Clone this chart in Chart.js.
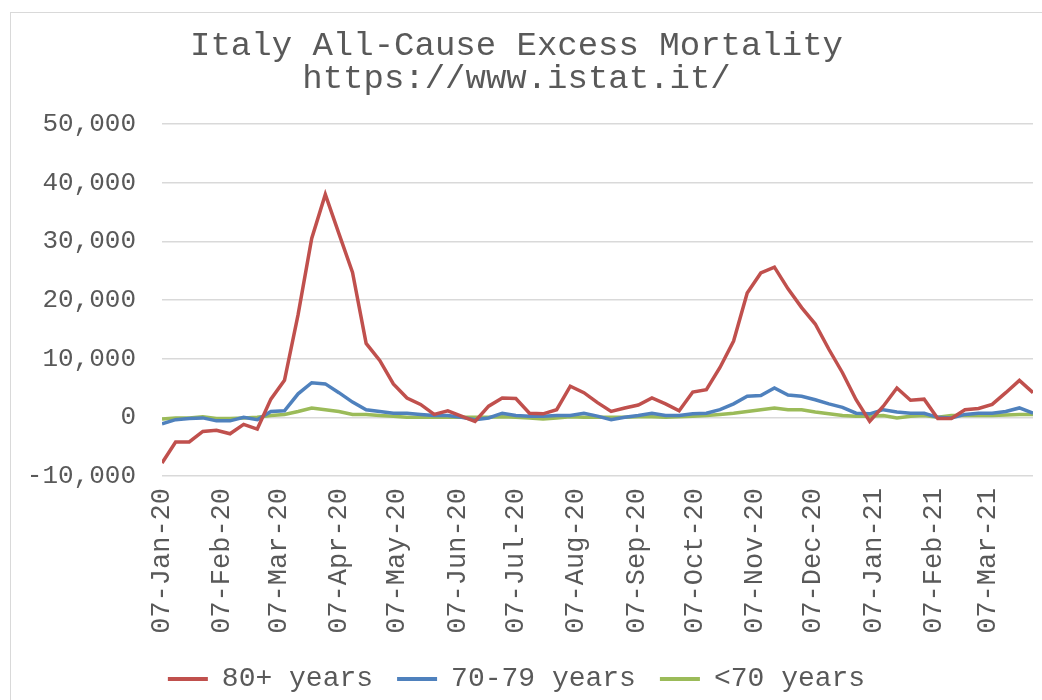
<!DOCTYPE html>
<html>
<head>
<meta charset="utf-8">
<script src="https://cdn.jsdelivr.net/npm/chart.js@4.4.1/dist/chart.umd.min.js"></script>
<style>
  html, body { margin: 0; padding: 0; background: #fff; overflow: hidden; width: 1042px; height: 700px; }
  #frame { position: absolute; left: 10px; top: 12px; width: 1100px; height: 800px; border: 1px solid #d9d9d9; background: #fff; }
  #c { position: absolute; left: 0; top: 0; }
</style>
</head>
<body>
<div id="frame"></div>
<canvas id="c" width="1042" height="700"></canvas>
<script>
const titleLines = ['Italy All-Cause Excess Mortality', 'https://www.istat.it/'];
const seriesNames = ['80+ years', '70-79 years', '<70 years'];
const tickLabels = ['07-Jan-20','07-Feb-20','07-Mar-20','07-Apr-20','07-May-20','07-Jun-20','07-Jul-20','07-Aug-20','07-Sep-20','07-Oct-20','07-Nov-20','07-Dec-20','07-Jan-21','07-Feb-21','07-Mar-21'];
const firstWeek = '07-Jan-20';

const over80 = [-7800,-4200,-4200,-2400,-2200,-2800,-1200,-2000,3100,6300,17500,30500,38000,31300,24700,12600,9700,5700,3300,2200,500,1100,200,-700,1900,3300,3200,700,600,1300,5300,4200,2500,1000,1600,2100,3300,2300,1100,4300,4700,8500,13000,21200,24600,25600,21900,18700,15900,11600,7600,3000,-700,1900,5000,2900,3100,-200,-200,1300,1500,2200,4200,6300,4200];
const age70to79 = [-1100,-400,-200,-100,-600,-600,0,-400,1000,1100,4000,5900,5700,4200,2600,1300,1000,700,700,500,300,300,0,-400,-100,700,300,200,200,300,300,700,200,-400,0,300,700,300,300,600,700,1300,2300,3600,3700,5000,3800,3600,3000,2300,1700,700,600,1300,900,700,700,0,-100,500,700,700,1000,1600,700];
const under70 = [-300,-100,-100,100,-200,-200,-100,0,300,500,1000,1600,1300,1000,500,500,300,200,0,0,0,0,0,0,0,100,0,-100,-300,-100,100,0,0,0,0,100,100,0,100,200,300,500,700,1000,1300,1600,1300,1300,900,600,300,200,200,300,-100,200,300,0,300,300,300,300,400,500,500];

const monthIdx = {Jan:0,Feb:1,Mar:2,Apr:3,May:4,Jun:5,Jul:6,Aug:7,Sep:8,Oct:9,Nov:10,Dec:11};
function parseLabel(s) { const p = s.split('-'); return Date.UTC(2000 + +p[2], monthIdx[p[1]], +p[0]); }
const DAY = 86400000;
const t0 = parseLabel(firstWeek);
const tickDays = tickLabels.map(l => Math.round((parseLabel(l) - t0) / DAY));
const toPoints = arr => arr.map((v, i) => ({ x: i * 7, y: v }));

const colors = ['#C0504D', '#4F81BD', '#9BBB59'];
const values = [over80, age70to79, under70];
const FONT = "'Liberation Mono', 'DejaVu Sans Mono', monospace";
const TXT = '#595959';

new Chart(document.getElementById('c'), {
  type: 'line',
  data: {
    datasets: values.map((arr, k) => ({
      label: seriesNames[k],
      data: toPoints(arr),
      borderColor: colors[k],
      backgroundColor: colors[k],
      borderWidth: 3.5,
      pointRadius: 0,
      tension: 0,
      fill: false
    }))
  },
  options: {
    responsive: false,
    animation: false,
    devicePixelRatio: 1,
    layout: { padding: { left: 0, right: 9, top: 12, bottom: -3 } },
    plugins: {
      title: {
        display: true,
        text: titleLines,
        color: TXT,
        font: { family: FONT, size: 34, weight: 'normal', lineHeight: 0.97 },
        padding: { top: 18, bottom: 28 }
      },
      legend: {
        position: 'bottom',
        labels: {
          color: TXT,
          font: { family: FONT, size: 28 },
          boxWidth: 40,
          boxHeight: 4,
          padding: 24,
          generateLabels: (chart) => {
            const items = Chart.defaults.plugins.legend.labels.generateLabels(chart);
            items.forEach(it => { it.lineWidth = 0; });
            return items;
          }
        }
      },
      tooltip: { enabled: false }
    },
    scales: {
      x: {
        type: 'linear',
        min: 0,
        max: (over80.length - 1) * 7,
        afterBuildTicks: (scale) => { scale.ticks = tickDays.map(v => ({ value: v })); },
        afterFit: (scale) => { scale.height = 165; },
        grid: { display: false, drawTicks: false },
        border: { display: false },
        ticks: {
          autoSkip: false,
          minRotation: 90,
          maxRotation: 90,
          padding: 12,
          color: TXT,
          font: { family: FONT, size: 27 },
          callback: (v, i) => tickLabels[i]
        }
      },
      y: {
        min: -10000,
        max: 50000,
        afterFit: (scale) => { scale.width = 162; },
        grid: { color: '#d9d9d9', lineWidth: 1.5, drawTicks: false },
        border: { display: false },
        ticks: {
          stepSize: 10000,
          padding: 26,
          color: TXT,
          font: { family: FONT, size: 26 },
          callback: (v) => v.toLocaleString('en-US')
        }
      }
    }
  }
});
</script>
</body>
</html>
